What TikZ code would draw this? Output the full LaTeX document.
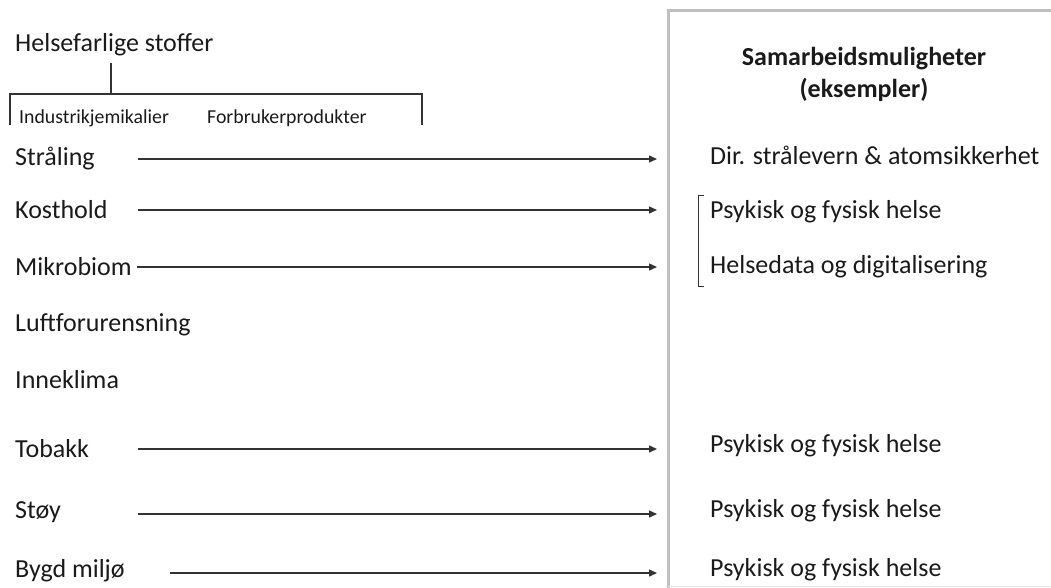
\documentclass[tikz,border=0pt]{standalone}
\usepackage{fontspec}
\setmainfont{Carlito}
\usetikzlibrary{arrows.meta}
\definecolor{txt}{HTML}{1A1A1A}
\definecolor{ln}{HTML}{333333}
\definecolor{boxgray}{HTML}{BFBFBF}
\tikzset{
  lbl/.style={anchor=base west, inner sep=0pt, font=\fontsize{26}{31}\selectfont, text=txt},
  small/.style={anchor=base west, inner sep=0pt, font=\fontsize{19.8}{24}\selectfont, text=txt},
  arr/.style={draw=ln, line width=1.4pt, -{Triangle[length=8pt,width=7pt]}},
  brk/.style={draw=ln, line width=1.2pt},
}
\begin{document}
\begin{tikzpicture}[x=1pt,y=-1pt]
\useasboundingbox (0,0) rectangle (1051,587);
% right box
\draw[boxgray, line width=3pt] (1060,10) -- (668,10) -- (668,595);
\draw[boxgray!40, line width=1pt] (668,586) -- (1060,586);
% left labels
\node[lbl] (hs) at (15,51) {Helsefarlige stoffer};
\coordinate (hsb) at (111,63);
\coordinate (brtop) at (111,94);
\draw[brk] (hsb) -- (brtop);
\draw[brk] (10,125) -- (10,94) -- (422,94) -- (422,125);
\node[small] (ind) at (19,123) {Industrikjemikalier};
\node[small] (forb) at (207,123) {Forbrukerprodukter};
\node[lbl] (str) at (15,165) {Stråling};
\node[lbl] (kost) at (15,218) {Kosthold};
\node[lbl] (mikro) at (15,275) {Mikrobiom};
\node[lbl] (luft) at (15,331) {Luftforurensning};
\node[lbl] (inne) at (15,388) {Inneklima};
\node[lbl] (tob) at (15,457) {Tobakk};
\node[lbl] (stoy) at (15,518) {Støy};
\node[lbl] (bygd) at (15,577) {Bygd miljø};
% right labels
\node[font=\fontsize{26}{32}\selectfont\bfseries, text=txt, align=center, inner sep=0pt, anchor=base] (samb) at (864,97) {Samarbeidsmuligheter\\(eksempler)};
\node[lbl] (dir) at (710,164) {Dir. strålevern \& atomsikkerhet};
\node[lbl] (psy1) at (710,218) {Psykisk og fysisk helse};
\node[lbl] (hdata) at (710,273) {Helsedata og digitalisering};
\node[lbl] (psy2) at (710,452) {Psykisk og fysisk helse};
\node[lbl] (psy3) at (710,517) {Psykisk og fysisk helse};
\node[lbl] (psy4) at (710,576) {Psykisk og fysisk helse};
\draw[brk, line width=1pt] (704,195) -- (698,195) -- (698,286) -- (704,286);
% arrow endpoints
\coordinate (e1) at (657,159);
\coordinate (e2) at (657,210);
\coordinate (e3) at (657,267);
\coordinate (e4) at (657,449);
\coordinate (e5) at (657,514);
\coordinate (e6) at (657,573);
\draw[arr] (138,159) -- (e1);
\draw[arr] (138,210) -- (e2);
\draw[arr] (137,267) -- (e3);
\draw[arr] (138,449) -- (e4);
\draw[arr] (138,514) -- (e5);
\draw[arr] (170,573) -- (e6);
\end{tikzpicture}
\end{document}
